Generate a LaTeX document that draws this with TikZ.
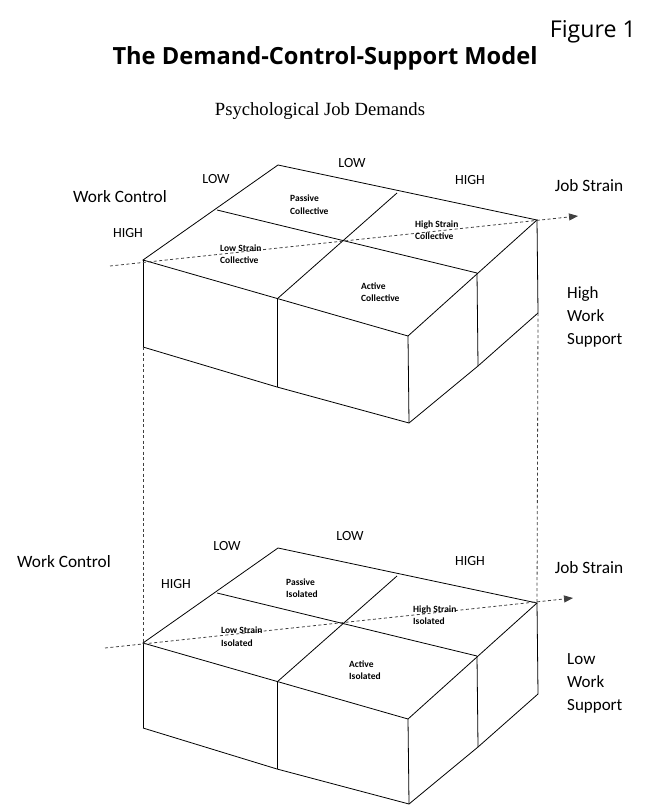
\documentclass[tikz,border=0pt]{standalone}
\usepackage{fontspec}
\setmainfont{Carlito}
\newfontfamily\titlefont{Open Sans}
\newfontfamily\seriffont{Liberation Serif}
\usetikzlibrary{arrows.meta}
\begin{document}
\begin{tikzpicture}[x=1pt,y=-1pt,
  edge/.style={line width=0.8pt, black},
  guide/.style={line width=0.8pt, black!75, dash pattern=on 3pt off 2.5pt},
  axisarrow/.style={guide, -{Triangle[length=9pt,width=7pt]}},
  small/.style={inner sep=0pt, font=\fontsize{14}{16}\selectfont},
  big/.style={inner sep=0pt, font=\fontsize{17.3}{23}\selectfont},
  side/.style={inner sep=0pt, anchor=west, align=left, font=\fontsize{17}{23}\selectfont},
  cell/.style={inner sep=0pt, anchor=west, align=left, font=\bfseries\fontsize{9.5}{12.5}\selectfont}]
\useasboundingbox (0,0) rectangle (646,805);

% ---- headings ----
\node[inner sep=0pt, anchor=base east] (fig) at (636,38) {\resizebox{86pt}{!}{\titlefont Figure 1}};
\node[inner sep=0pt, anchor=base] (title) at (325,65) {\resizebox{425pt}{!}{\titlefont\bfseries The Demand-Control-Support Model}};
\node[inner sep=0pt, anchor=base] (psych) at (320,115.5) {\resizebox{210pt}{!}{\seriffont Psychological Job Demands}};

% ---- top block ----
\coordinate (tA) at (143,260);
\coordinate (tB) at (278,165);
\coordinate (tC) at (537,220);
\coordinate (tD) at (408,336);
\coordinate (tAB) at (217,210);
\coordinate (tBC) at (397,193);
\coordinate (tCD) at (477,273);
\coordinate (tAD) at (277,299);
\coordinate (tA2) at (143,347);
\coordinate (tAD2) at (277,387);
\coordinate (tD2) at (409,423);
\coordinate (tCD2) at (478,366);
\coordinate (tC2) at (538,313);
\coordinate (tS) at (110,266);
\coordinate (tT) at (578,216);

\draw[edge] (tA) -- (tB) -- (tC) -- (tD) -- cycle;
\draw[edge] (tAB) -- (tCD);
\draw[edge] (tBC) -- (tAD);
\draw[edge] (tA) -- (tA2);
\draw[edge] (tAD) -- (tAD2);
\draw[edge] (tD) -- (tD2);
\draw[edge] (tCD) -- (tCD2);
\draw[edge] (tC) -- (tC2);
\draw[edge] (tA2) -- (tAD2) -- (tD2) -- (tCD2) -- (tC2);
\draw[axisarrow] (tS) -- (tT);

\node[big] (twc) at (120,197) {Work Control};
\node[small] (tlow1) at (216,179) {LOW};
\node[small] (thigh1) at (128,233) {HIGH};
\node[small] (tlow2) at (352,163) {LOW};
\node[small] (thigh2) at (470,180) {HIGH};
\node[big] (tjs) at (589,186) {Job Strain};
\node[side] (tsup) at (567,317) {High\\Work\\Support};

\node[cell] (tc1) at (290,204.5) {Passive\\Collective};
\node[cell] (tc2) at (220,254) {Low Strain\\Collective};
\node[cell] (tc3) at (415,230) {High Strain\\Collective};
\node[cell] (tc4) at (361,292) {Active\\Collective};

% ---- bottom block ----
\coordinate (bA) at (143,643);
\coordinate (bB) at (278,548);
\coordinate (bC) at (537,603);
\coordinate (bD) at (408,719);
\coordinate (bAB) at (217,593);
\coordinate (bBC) at (397,576);
\coordinate (bCD) at (477,656);
\coordinate (bAD) at (277,682);
\coordinate (bA2) at (143,728);
\coordinate (bAD2) at (277,769);
\coordinate (bD2) at (409,804);
\coordinate (bCD2) at (478,747);
\coordinate (bC2) at (538,694);
\coordinate (bS) at (105,648);
\coordinate (bT) at (573,598);

\draw[edge] (bA) -- (bB) -- (bC) -- (bD) -- cycle;
\draw[edge] (bAB) -- (bCD);
\draw[edge] (bBC) -- (bAD);
\draw[edge] (bA) -- (bA2);
\draw[edge] (bAD) -- (bAD2);
\draw[edge] (bD) -- (bD2);
\draw[edge] (bCD) -- (bCD2);
\draw[edge] (bC) -- (bC2);
\draw[edge] (bA2) -- (bAD2) -- (bD2) -- (bCD2) -- (bC2);
\draw[axisarrow] (bS) -- (bT);

% connecting dashed verticals
\draw[guide] (tA2) -- (bA);
\draw[guide] (tC2) -- (bC);

\node[big] (bwc) at (64,562) {Work Control};
\node[small] (blow1) at (227,546) {LOW};
\node[small] (bhigh1) at (176,584) {HIGH};
\node[small] (blow2) at (350,536) {LOW};
\node[small] (bhigh2) at (470,561) {HIGH};
\node[big] (bjs) at (589,568) {Job Strain};
\node[side] (bsup) at (567,683) {Low\\Work\\Support};

\node[cell] (bc1) at (286,588) {Passive\\Isolated};
\node[cell] (bc2) at (221,636.7) {Low Strain\\Isolated};
\node[cell] (bc3) at (413,615.3) {High Strain\\Isolated};
\node[cell] (bc4) at (349,670) {Active\\Isolated};
\end{tikzpicture}
\end{document}
